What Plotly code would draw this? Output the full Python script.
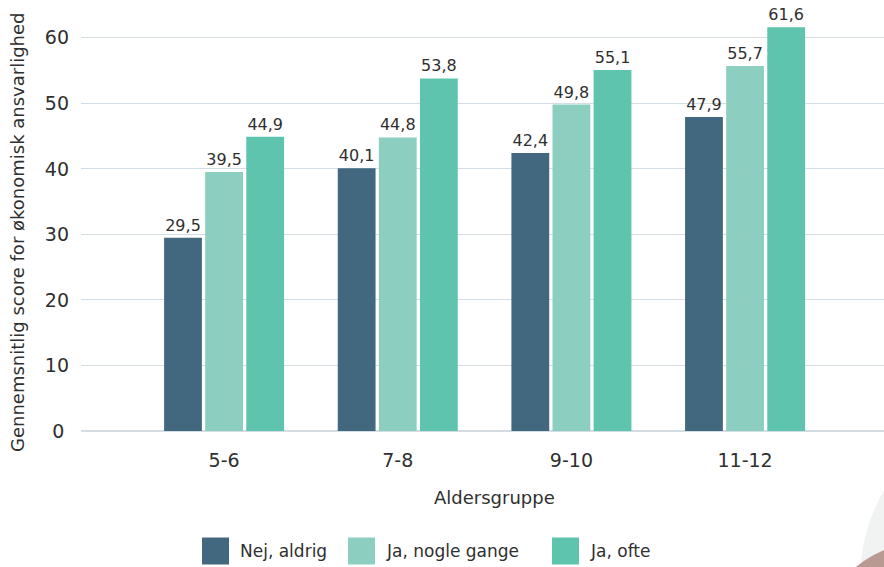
import plotly.graph_objects as go

# Age groups and mean score per answer category
age_groups = ["5-6", "7-8", "9-10", "11-12"]
series_names = ["Nej, aldrig", "Ja, nogle gange", "Ja, ofte"]
nej_aldrig = [29.5, 40.1, 42.4, 47.9]
ja_nogle_gange = [39.5, 44.8, 49.8, 55.7]
ja_ofte = [44.9, 53.8, 55.1, 61.6]
y_ticks = [0, 10, 20, 30, 40, 50, 60]
y_tick_text = ["0\u2005", "10", "20", "30", "40", "50", "60"]
x_title = "Aldersgruppe"
y_title = "Gennemsnitlig score for økonomisk ansvarlighed"

colors = ["#41687e", "#8ccfc1", "#5ec4ae"]
text_color = "#2f2f2f"
font_family = "'DejaVu Sans', sans-serif"

W, H = 884, 567
M_L, M_R, M_T, M_B = 81, 0, 5, 136
plot_w = W - M_L - M_R
plot_h = H - M_T - M_B

fig = go.Figure()
for name, vals, col in zip(series_names, [nej_aldrig, ja_nogle_gange, ja_ofte], colors):
    fig.add_trace(go.Bar(
        x=list(range(len(age_groups))),
        y=vals,
        name=name,
        marker=dict(color=col, line=dict(width=0)),
        texttemplate="%{y:.1f}",
        textposition="outside",
        textfont=dict(size=16, color=text_color, family=font_family),
        cliponaxis=False,
        showlegend=False,
    ))


def px_to_paper_x(px):
    return (px - M_L) / plot_w


def px_to_paper_y(py):
    return (H - M_B - py) / plot_h


def circle(cx, cy, r, color):
    return dict(
        type="circle", xref="paper", yref="paper",
        x0=px_to_paper_x(cx - r), x1=px_to_paper_x(cx + r),
        y0=px_to_paper_y(cy + r), y1=px_to_paper_y(cy - r),
        fillcolor=color, line=dict(width=0), layer="below",
    )


# Decorative corner circles
shapes = [
    circle(1040, 580, 180, "#f1f2f2"),
    circle(925, 650, 108, "#b99a92"),
]

# Custom legend: large squares with labels
legend_y = 551
legend_square_x = [202, 348, 552]
annotations = []
for name, col, sx in zip(series_names, colors, legend_square_x):
    shapes.append(dict(
        type="rect", xref="paper", yref="paper",
        x0=px_to_paper_x(sx), x1=px_to_paper_x(sx + 27),
        y0=px_to_paper_y(legend_y + 13.5), y1=px_to_paper_y(legend_y - 13.5),
        fillcolor=col, line=dict(width=0), layer="above",
    ))
    annotations.append(dict(
        text=name, xref="paper", yref="paper",
        x=px_to_paper_x(sx + 36), y=px_to_paper_y(legend_y),
        xanchor="left", yanchor="middle", showarrow=False,
        font=dict(size=17, color=text_color, family=font_family),
    ))

# Axis titles
annotations.append(dict(
    text=x_title, xref="paper", yref="paper",
    x=px_to_paper_x(495), y=px_to_paper_y(497),
    xanchor="center", yanchor="middle", showarrow=False,
    font=dict(size=18, color=text_color, family=font_family),
))
annotations.append(dict(
    text=y_title, xref="paper", yref="paper", textangle=-90,
    x=px_to_paper_x(17), y=px_to_paper_y(232),
    xanchor="center", yanchor="middle", showarrow=False,
    font=dict(size=18, color=text_color, family=font_family),
))

fig.update_layout(
    width=W, height=H,
    margin=dict(l=M_L, r=M_R, t=M_T, b=M_B),
    paper_bgcolor="white", plot_bgcolor="rgba(0,0,0,0)",
    separators=",.",
    barmode="group", bargap=0.29, bargroupgap=0.08,
    font=dict(family=font_family, color=text_color),
    showlegend=False,
    shapes=shapes,
    annotations=annotations,
    xaxis=dict(
        tickmode="array", tickvals=list(range(len(age_groups))), ticktext=age_groups,
        range=[-0.824, 3.80], showgrid=False, zeroline=False, showline=False,
        tickfont=dict(size=19, color=text_color),
        ticks="", ticklabelstandoff=16,
    ),
    yaxis=dict(
        range=[0, 65], tickmode="array", tickvals=y_ticks, ticktext=y_tick_text,
        showgrid=True, gridcolor="#d3dde3", gridwidth=1,
        zeroline=True, zerolinecolor="#d3dde3", zerolinewidth=2,
        showline=False, ticks="", ticklabelstandoff=11,
        tickfont=dict(size=19, color=text_color),
    ),
)

fig.write_html("out.html")
